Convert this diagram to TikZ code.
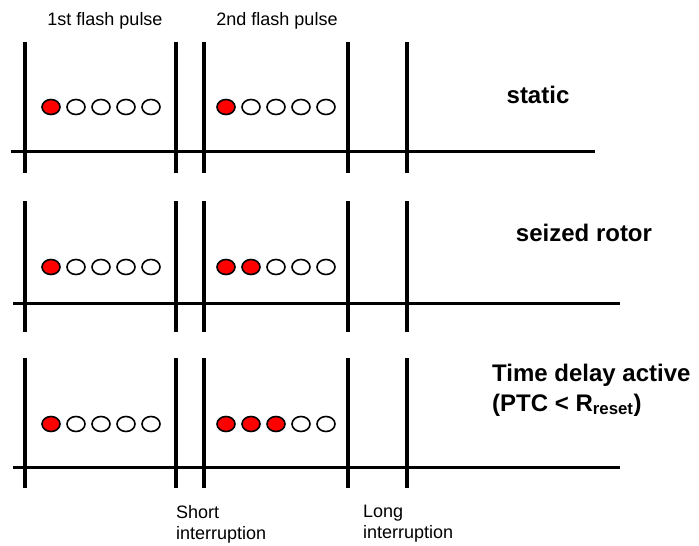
\documentclass[tikz,border=0pt]{standalone}
\usepackage{fontspec}
\setmainfont{Liberation Sans}
\usetikzlibrary{positioning,shapes.geometric}
\begin{document}
\begin{tikzpicture}[x=1pt, y=-1pt, node distance={25pt},
    led/.style = {draw, ellipse, line width=1.6pt, fill=white, minimum width=18pt, minimum height=15pt, inner sep=0pt},
    on/.style = {fill=red},
    bar/.style = {line width=4pt},
    axis/.style = {line width=3pt},
    note/.style = {font=\fontsize{18}{21}\selectfont, inner sep=0pt, align=left},
    mode/.style = {font=\fontsize{24}{30}\selectfont\bfseries, inner sep=0pt, align=left}]
    \useasboundingbox (0,0) rectangle (699,546);
    \node[note] (p1) at (105,21) {1st flash pulse};
    \node[note] (p2) at (277,21) {2nd flash pulse};
    %Static
    \draw[axis] (11,151) -- (595,151);
    \draw[bar] (25,42) -- (25,173) (176,42) -- (176,173) (204,42) -- (204,173)
        (348,42) -- (348,173) (407,42) -- (407,173);
    \node[led, on] (a1) at (51,107) {};
    \node[led] (a2) [right of=a1] {};
    \node[led] (a3) [right of=a2] {};
    \node[led] (a4) [right of=a3] {};
    \node[led] (a5) [right of=a4] {};
    \node[led, on] (b1) at (226,107) {};
    \node[led] (b2) [right of=b1] {};
    \node[led] (b3) [right of=b2] {};
    \node[led] (b4) [right of=b3] {};
    \node[led] (b5) [right of=b4] {};
    \node[mode] (m1) at (538,95) {static};
    %Seized rotor
    \draw[axis] (13,303) -- (620,303);
    \draw[bar] (25,201) -- (25,332) (176,201) -- (176,332) (204,201) -- (204,332)
        (348,201) -- (348,332) (407,201) -- (407,332);
    \node[led, on] (c1) at (51,267) {};
    \node[led] (c2) [right of=c1] {};
    \node[led] (c3) [right of=c2] {};
    \node[led] (c4) [right of=c3] {};
    \node[led] (c5) [right of=c4] {};
    \node[led, on] (d1) at (226,267) {};
    \node[led, on] (d2) [right of=d1] {};
    \node[led] (d3) [right of=d2] {};
    \node[led] (d4) [right of=d3] {};
    \node[led] (d5) [right of=d4] {};
    \node[mode] (m2) at (584,233) {seized rotor};
    %Time delay
    \draw[axis] (13,467) -- (620,467);
    \draw[bar] (25,358) -- (25,488) (176,358) -- (176,488) (204,358) -- (204,488)
        (348,358) -- (348,488) (407,358) -- (407,488);
    \node[led, on] (e1) at (51,424) {};
    \node[led] (e2) [right of=e1] {};
    \node[led] (e3) [right of=e2] {};
    \node[led] (e4) [right of=e3] {};
    \node[led] (e5) [right of=e4] {};
    \node[led, on] (f1) at (226,424) {};
    \node[led, on] (f2) [right of=f1] {};
    \node[led, on] (f3) [right of=f2] {};
    \node[led] (f4) [right of=f3] {};
    \node[led] (f5) [right of=f4] {};
    \node[mode, anchor=west] (m3) at (492,390) {Time delay active\\(PTC < R\textsubscript{reset})};
    %Interruptions
    \node[note, anchor=west] (s) at (176,524) {Short\\interruption};
    \node[note, anchor=west] (l) at (363,524) {Long\\interruption};
\end{tikzpicture}
\end{document}
